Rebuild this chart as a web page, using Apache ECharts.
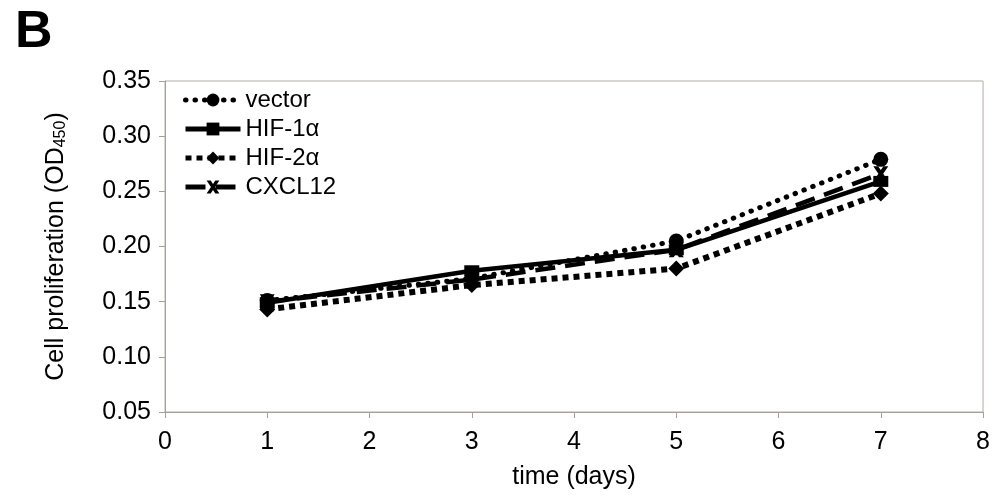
<!DOCTYPE html>
<html>
  <head>
    <meta charset="utf-8">
    <title>Cell proliferation</title>
    <style>
      html, body { margin: 0; padding: 0; background: #fff; }
    </style>
  </head>
  <body>
    <div id="main" style="width: 993px;height:497px;"></div>

  <script src="https://cdn.jsdelivr.net/npm/echarts@6/dist/echarts.min.js" charset="utf-8"></script>
  <script type="text/javascript">
  // data
  var days = [1, 3, 5, 7];
  var vector = [0.151, 0.171, 0.205, 0.279];
  var hif1a = [0.149, 0.178, 0.197, 0.259];
  var hif2a = [0.143, 0.165, 0.180, 0.248];
  var cxcl12 = [0.150, 0.170, 0.197, 0.266];
  var yTicks = [0.05, 0.10, 0.15, 0.20, 0.25, 0.30, 0.35];

  function pairs(ys) {
    return days.map(function (d, i) { return [d, ys[i]]; });
  }

  var font = "'Liberation Sans', Arial, sans-serif";
  var xMark = 'path://M0,0 L3.2,0 L5,2.6 L6.8,0 L10,0 L6.6,5 L10,10 L6.8,10 L5,7.4 L3.2,10 L0,10 L3.4,5 Z';

  var myChart = echarts.init(document.getElementById('main'));

  var option = {
    backgroundColor: '#fff',
    animation: false,
    textStyle: { fontFamily: font, color: '#000' },
    title: {
      text: 'B',
      left: 10,
      top: 2,
      textStyle: { fontFamily: font, fontSize: 52, fontWeight: 'bold', color: '#000' }
    },
    grid: {
      left: 165, right: 8, top: 81, bottom: 85,
      show: true,
      borderColor: '#b5aca5',
      borderWidth: 1
    },
    legend: {
      orient: 'vertical',
      left: 178,
      top: 83,
      itemWidth: 55,
      itemHeight: 16,
      itemGap: 5,
      lineStyle: { width: 5 },
      textStyle: { fontFamily: font, fontSize: 24, color: '#000' },
      data: ['vector', 'HIF-1α', 'HIF-2α', 'CXCL12']
    },
    xAxis: {
      type: 'value',
      min: 0, max: 8, interval: 1,
      name: 'time (days)',
      nameLocation: 'middle',
      nameGap: 53,
      nameTextStyle: { fontFamily: font, fontSize: 25, color: '#000' },
      axisLine: { lineStyle: { color: '#a89f98', width: 1 } },
      axisTick: { length: 6, lineStyle: { color: '#a89f98' } },
      axisLabel: { fontFamily: font, fontSize: 25, color: '#000', margin: 18 },
      splitLine: { show: false }
    },
    yAxis: {
      type: 'value',
      min: 0.05, max: 0.35, interval: 0.05,
      name: 'Cell proliferation (OD{sub|450})',
      nameLocation: 'middle',
      nameGap: 96,
      nameTextStyle: {
        fontFamily: font, fontSize: 25, color: '#000',
        rich: { sub: { fontFamily: font, fontSize: 16, verticalAlign: 'bottom', padding: [10, 0, 0, 0] } }
      },
      axisLine: { show: true, lineStyle: { color: '#a89f98', width: 1 } },
      axisTick: { show: true, length: 6, lineStyle: { color: '#a89f98' } },
      axisLabel: {
        fontFamily: font, fontSize: 25, color: '#000', margin: 14,
        formatter: function (v) { return v.toFixed(2); }
      },
      splitLine: { show: false }
    },
    series: [
      {
        name: 'vector', type: 'line', data: pairs(vector),
        symbol: 'circle', symbolSize: 15,
        itemStyle: { color: '#000' },
        lineStyle: { color: '#000', width: 5, type: [0.5, 9], cap: 'round' },
        z: 4
      },
      {
        name: 'HIF-1α', type: 'line', data: pairs(hif1a),
        symbol: 'rect', symbolSize: [15, 11],
        itemStyle: { color: '#000' },
        lineStyle: { color: '#000', width: 4.5, type: 'solid' },
        z: 3
      },
      {
        name: 'HIF-2α', type: 'line', data: pairs(hif2a),
        symbol: 'diamond', symbolSize: 16,
        itemStyle: { color: '#000' },
        lineStyle: { color: '#000', width: 6, type: [6, 5] },
        z: 2
      },
      {
        name: 'CXCL12', type: 'line', data: pairs(cxcl12),
        symbol: xMark, symbolSize: 15,
        itemStyle: { color: '#000' },
        lineStyle: { color: '#000', width: 4.5, type: [20, 10] },
        z: 1
      }
    ]
  };
  myChart.setOption(option);
  </script>
  </body>
</html>
